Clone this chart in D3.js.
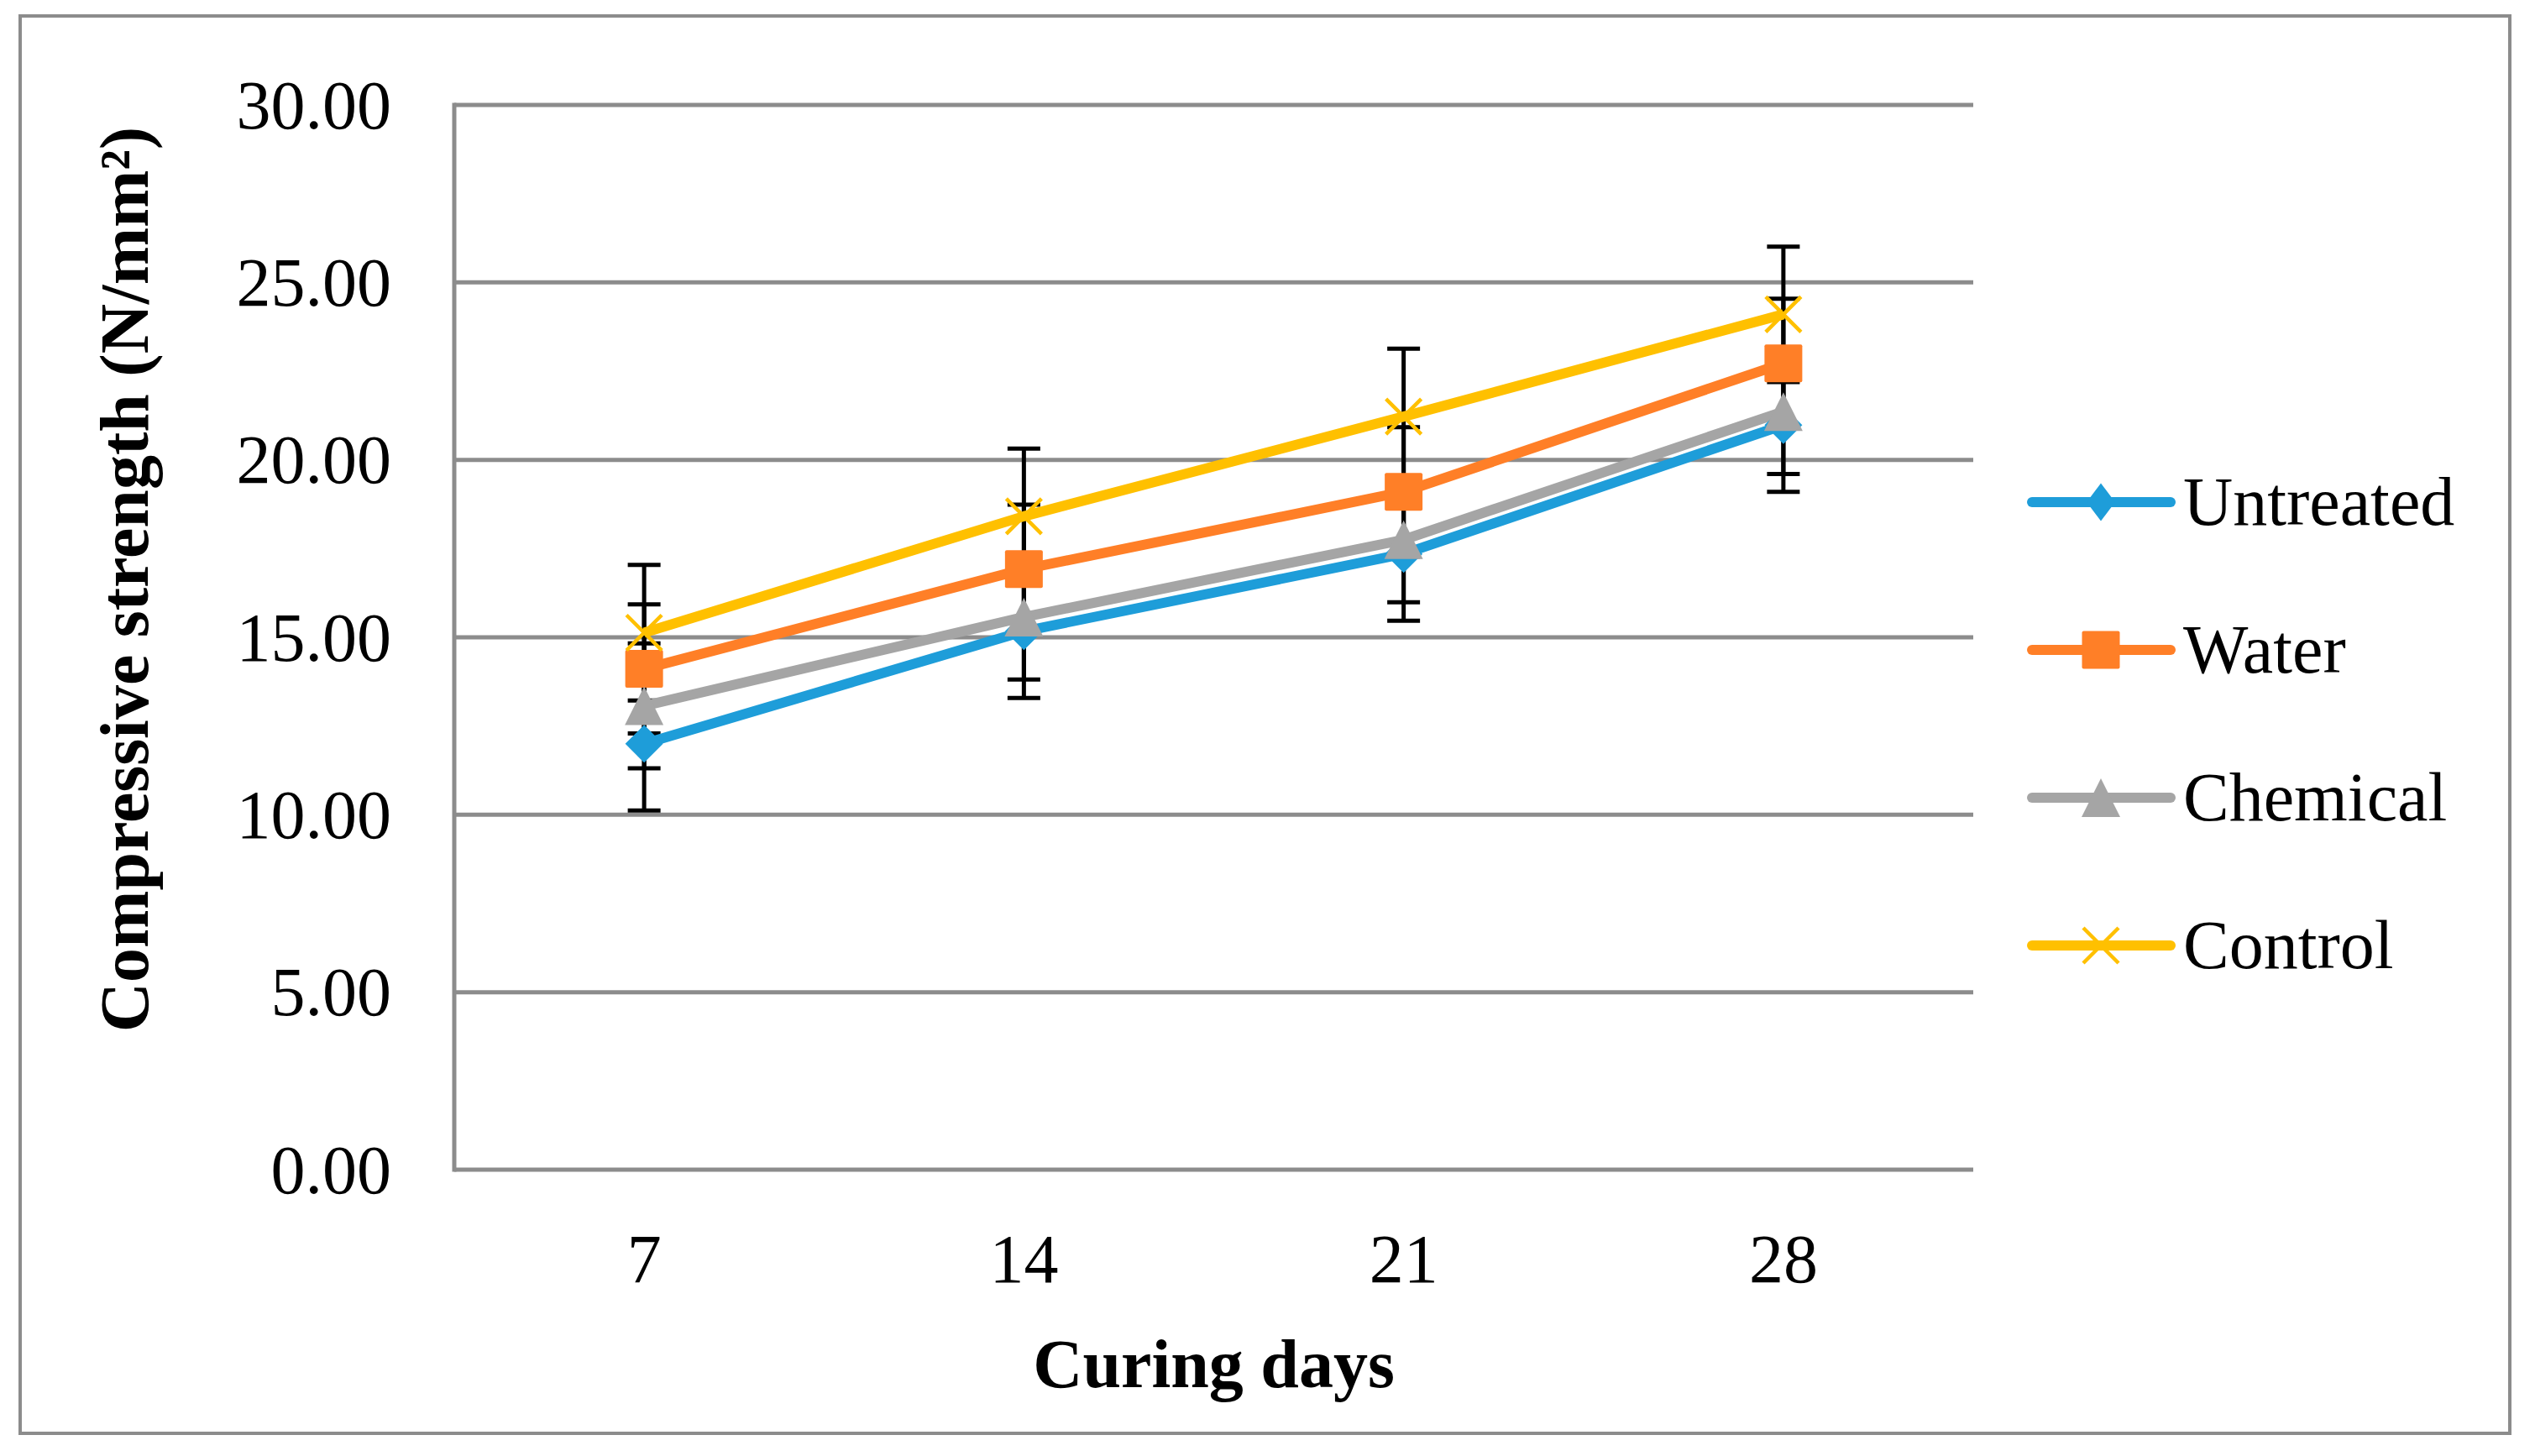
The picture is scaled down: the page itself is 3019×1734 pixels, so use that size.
<!DOCTYPE html>
<html>
<head>
<meta charset="utf-8">
<script src="https://cdn.jsdelivr.net/npm/d3@7"></script>
<style>
  body { margin: 0; background: #fff; }
  text { font-family: "Times New Roman", "Liberation Serif", serif; fill: #000; }
</style>
</head>
<body>
<div id="chart"></div>
<script>
var days = [7, 14, 21, 28];
var seriesNames = ["Untreated", "Water", "Chemical", "Control"];
var untreated = [12.0, 15.17, 17.35, 20.98];
var water = [14.11, 16.92, 19.1, 22.72];
var chemical = [13.07, 15.57, 17.75, 21.36];
var control = [15.13, 18.41, 21.22, 24.1];
var errors = [1.88, 1.82, 1.76, 1.91];
var yTicks = [0, 5, 10, 15, 20, 25, 30];
var colors = ["#1e9dd9", "#ff7f27", "#a5a5a5", "#ffc000"];
var shapes = ["diamond", "square", "triangle", "x"];

var values = [untreated, water, chemical, control];

var W = 3019, H = 1734;
var plotLeft = 541, plotRight = 2350, plotTop = 125, plotBottom = 1393;

var svg = d3.select("#chart").append("svg")
    .attr("width", W).attr("height", H);

// outer border
svg.append("rect")
    .attr("x", 24).attr("y", 19).attr("width", 2965).attr("height", 1688)
    .attr("fill", "none").attr("stroke", "#8c8c8c").attr("stroke-width", 4);

var x = d3.scaleBand().domain(days).range([plotLeft, plotRight]).padding(0);
var y = d3.scaleLinear().domain([0, 30]).range([plotBottom, plotTop]);
function cx(d) { return x(d) + x.bandwidth() / 2; }

// gridlines
svg.append("g").selectAll("line")
    .data(yTicks)
    .enter().append("line")
    .attr("x1", plotLeft).attr("x2", plotRight)
    .attr("y1", function(d) { return y(d); })
    .attr("y2", function(d) { return y(d); })
    .attr("stroke", "#8c8c8c").attr("stroke-width", 5);

// vertical axis line
svg.append("line")
    .attr("x1", plotLeft).attr("x2", plotLeft).attr("y1", plotTop - 2.5).attr("y2", plotBottom + 2.5)
    .attr("stroke", "#8c8c8c").attr("stroke-width", 5);

// y tick labels
var yAxis = svg.append("g")
    .attr("transform", "translate(" + plotLeft + ",0)")
    .call(d3.axisLeft(y).tickValues(yTicks).tickFormat(d3.format(".2f")).tickSize(0).tickPadding(75));
yAxis.select(".domain").remove();
yAxis.selectAll("text")
    .attr("font-family", "Times New Roman, Liberation Serif, serif")
    .attr("font-size", 82).attr("dy", 27).attr("fill", "#000");

// x tick labels
var xAxis = svg.append("g")
    .attr("transform", "translate(0," + plotBottom + ")")
    .call(d3.axisBottom(x).tickSize(0));
xAxis.select(".domain").remove();
xAxis.selectAll("text")
    .attr("font-family", "Times New Roman, Liberation Serif, serif")
    .attr("font-size", 82).attr("y", 134).attr("dy", 0).attr("fill", "#000");

// axis titles
svg.append("text")
    .attr("x", (plotLeft + plotRight) / 2).attr("y", 1652)
    .attr("text-anchor", "middle")
    .attr("font-size", 82).attr("font-weight", "bold")
    .text("Curing days");

svg.append("text")
    .attr("transform", "translate(176,690) rotate(-90)")
    .attr("text-anchor", "middle")
    .attr("font-size", 82).attr("font-weight", "bold")
    .text("Compressive strength (N/mm²)");

// error bars
values.forEach(function(vals, i) {
    var g = svg.append("g").attr("stroke", "#000").attr("stroke-width", 5);
    vals.forEach(function(v, j) {
        var xc = cx(days[j]), e = errors[i];
        g.append("line").attr("x1", xc).attr("x2", xc)
            .attr("y1", y(v - e)).attr("y2", y(v + e));
        [v - e, v + e].forEach(function(c) {
            g.append("line").attr("x1", xc - 19.5).attr("x2", xc + 19.5)
                .attr("y1", y(c)).attr("y2", y(c));
        });
    });
});

var line = d3.line()
    .x(function(d, j) { return cx(days[j]); })
    .y(function(d) { return y(d); });

function marker(g, shape, color, px, py, legend) {
    if (shape === "diamond") {
        var hw = legend ? 17 : 22.5, hh = 22.5;
        g.append("path")
            .attr("d", "M" + px + "," + (py - hh) + "L" + (px + hw) + "," + py +
                "L" + px + "," + (py + hh) + "L" + (px - hw) + "," + py + "Z")
            .attr("fill", color);
    } else if (shape === "square") {
        g.append("rect").attr("x", px - 22.5).attr("y", py - 22.5)
            .attr("width", 45).attr("height", 45).attr("rx", 2)
            .attr("fill", color);
    } else if (shape === "triangle") {
        g.append("path")
            .attr("d", "M" + px + "," + (py - 23) + "L" + (px + 23) + "," + (py + 23) +
                "L" + (px - 23) + "," + (py + 23) + "Z")
            .attr("fill", color);
    } else {
        g.append("path")
            .attr("d", "M" + (px - 21) + "," + (py - 21) + "L" + (px + 21) + "," + (py + 21) +
                "M" + (px + 21) + "," + (py - 21) + "L" + (px - 21) + "," + (py + 21))
            .attr("stroke", color).attr("stroke-width", 4.5).attr("fill", "none");
    }
}

// series lines
values.forEach(function(vals, i) {
    svg.append("path")
        .attr("d", line(vals))
        .attr("fill", "none")
        .attr("stroke", colors[i])
        .attr("stroke-width", 12)
        .attr("stroke-linejoin", "round");
});

// markers
values.forEach(function(vals, i) {
    var g = svg.append("g");
    vals.forEach(function(v, j) {
        marker(g, shapes[i], colors[i], cx(days[j]), y(v), false);
    });
});

// legend
var legendY = d3.scalePoint().domain(seriesNames).range([598, 1126]);
seriesNames.forEach(function(name, i) {
    var ly = legendY(name);
    var g = svg.append("g");
    g.append("line")
        .attr("x1", 2420).attr("x2", 2585).attr("y1", ly).attr("y2", ly)
        .attr("stroke", colors[i]).attr("stroke-width", 12)
        .attr("stroke-linecap", "round");
    marker(g, shapes[i], colors[i], 2502, ly, true);
    g.append("text")
        .attr("x", 2600).attr("y", ly + 27)
        .attr("font-size", 82)
        .text(name);
});
</script>
</body>
</html>
